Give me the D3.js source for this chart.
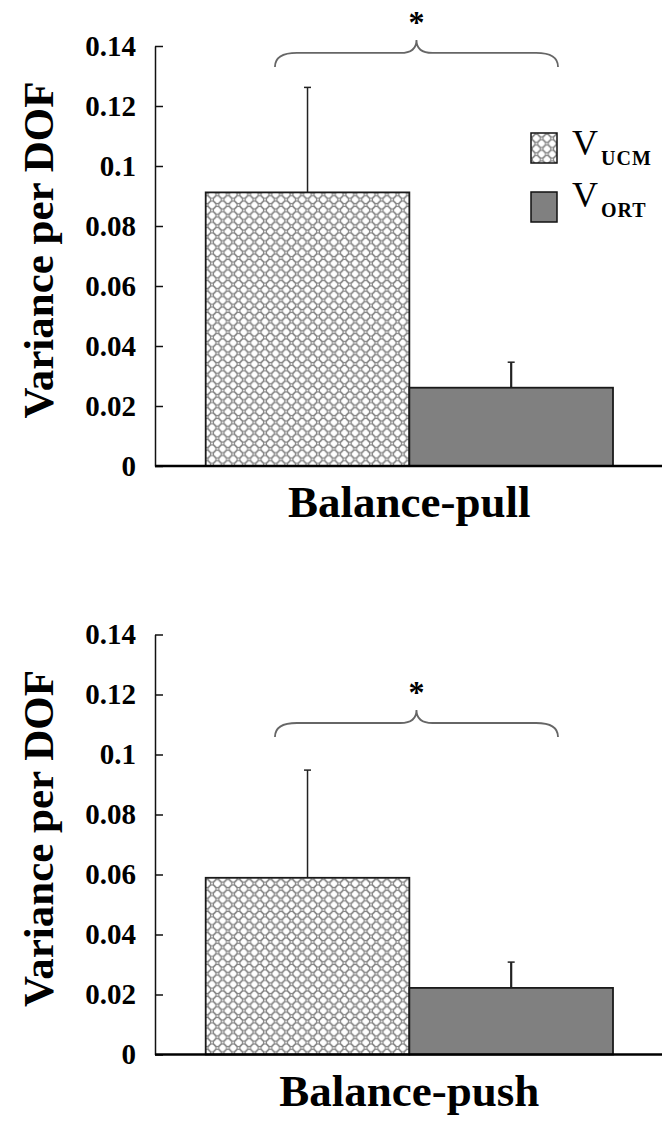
<!DOCTYPE html>
<html>
<head>
<meta charset="utf-8">
<script src="https://cdn.jsdelivr.net/npm/d3@7"></script>
<style>
  html, body { margin: 0; padding: 0; background: #fff; }
  svg { display: block; }
  text { font-family: "Liberation Serif", "DejaVu Serif", serif; }
</style>
</head>
<body>
<script>
// data
const categories = ['Balance-pull', 'Balance-push'];
const series = ['UCM', 'ORT'];
const ucmMean = [0.0912, 0.0589];
const ucmErr = [0.0350, 0.0359];
const ortMean = [0.0261, 0.0222];
const ortErr = [0.0085, 0.0086];
const yTicks = [0, 0.02, 0.04, 0.06, 0.08, 0.1, 0.12, 0.14];
const significance = ['*', '*'];
const braceLevel = [0.1377, 0.1105];
const braceSpan = [0.34, 1.73]; // in bar units (0..2)

const width = 662;
const height = 1122;
const panelTop = [46, 634.5];
const plotHeight = 420;
const axisX = 155;

const svg = d3.select('body').append('svg')
  .attr('width', width)
  .attr('height', height);

// circle lattice fill for the UCM bar
const pattern = svg.append('defs').append('pattern')
  .attr('id', 'rings')
  .attr('patternUnits', 'userSpaceOnUse')
  .attr('width', 10.6)
  .attr('height', 10.6);
pattern.append('rect').attr('width', 10.6).attr('height', 10.6).attr('fill', '#fff');
[[0, 0], [10.6, 0], [0, 10.6], [10.6, 10.6], [5.3, 5.3]].forEach(([cx, cy]) => {
  pattern.append('circle')
    .attr('cx', cx).attr('cy', cy).attr('r', 4)
    .attr('fill', 'none')
    .attr('stroke', '#858585')
    .attr('stroke-width', 1.2);
});

const fills = { UCM: 'url(#rings)', ORT: '#808080' };

const x = d3.scaleBand().domain(series).range([205.7, 613]).padding(0);
const xPos = d3.scaleLinear().domain([0, 2]).range([205.7, 613]);
const fmt = d => String(+d.toFixed(2));

categories.forEach((cat, i) => {
  const g = svg.append('g').attr('transform', `translate(0,${panelTop[i]})`);
  const y = d3.scaleLinear().domain([0, 0.14]).range([plotHeight, 0]);

  const bars = series.map((s, j) => ({
    s,
    v: j === 0 ? ucmMean[i] : ortMean[i],
    e: j === 0 ? ucmErr[i] : ortErr[i]
  }));

  // error bars (upper only)
  const eb = g.append('g').selectAll('g').data(bars).join('g');
  eb.append('line')
    .attr('x1', d => x(d.s) + x.bandwidth() / 2)
    .attr('x2', d => x(d.s) + x.bandwidth() / 2)
    .attr('y1', d => y(d.v))
    .attr('y2', d => y(d.v + d.e))
    .attr('stroke', '#222')
    .attr('stroke-width', (d, j) => j === 0 ? 1.5 : 2.2);
  eb.append('line')
    .attr('x1', d => x(d.s) + x.bandwidth() / 2 - 3.5)
    .attr('x2', d => x(d.s) + x.bandwidth() / 2 + 3.5)
    .attr('y1', d => y(d.v + d.e))
    .attr('y2', d => y(d.v + d.e))
    .attr('stroke', '#222')
    .attr('stroke-width', 1.5);

  g.append('g').selectAll('rect').data(bars).join('rect')
    .attr('x', d => x(d.s))
    .attr('y', d => y(d.v))
    .attr('width', x.bandwidth())
    .attr('height', d => y(0) - y(d.v))
    .attr('fill', d => fills[d.s])
    .attr('stroke', '#1a1a1a')
    .attr('stroke-width', 1.8);

  // y axis
  const ya = g.append('g')
    .attr('transform', `translate(${axisX},0)`)
    .call(d3.axisLeft(y).tickValues(yTicks).tickFormat(fmt)
      .tickSize(-8).tickPadding(19).tickSizeOuter(0));
  ya.select('.domain').attr('stroke', '#111').attr('stroke-width', 1.5);
  ya.selectAll('.tick line').attr('stroke', '#111').attr('stroke-width', 1.5);
  ya.selectAll('.tick text')
    .attr('font-family', '"Liberation Serif", serif')
    .attr('font-weight', 'bold')
    .attr('font-size', 29)
    .attr('fill', '#000');

  // x axis baseline
  g.append('line')
    .attr('x1', axisX).attr('x2', width)
    .attr('y1', y(0)).attr('y2', y(0))
    .attr('stroke', '#000')
    .attr('stroke-width', 2.5);

  g.append('text')
    .attr('x', xPos(1))
    .attr('y', y(0) + 51)
    .attr('text-anchor', 'middle')
    .attr('font-weight', 'bold')
    .attr('font-size', 45)
    .text(cat);

  g.append('text')
    .attr('transform', `translate(53,${plotHeight / 2 - 6}) rotate(-90)`)
    .attr('text-anchor', 'middle')
    .attr('font-weight', 'bold')
    .attr('font-size', 43)
    .text('Variance per DOF');

  // significance brace
  const x0 = xPos(braceSpan[0]);
  const x1 = xPos(braceSpan[1]);
  const xm = (x0 + x1) / 2;
  const yb = y(braceLevel[i]);
  const p = d3.path();
  p.moveTo(x0, yb + 14);
  p.quadraticCurveTo(x0, yb, x0 + 22, yb);
  p.lineTo(xm - 16, yb);
  p.quadraticCurveTo(xm, yb, xm, yb - 13);
  p.quadraticCurveTo(xm, yb, xm + 16, yb);
  p.lineTo(x1 - 22, yb);
  p.quadraticCurveTo(x1, yb, x1, yb + 14);
  g.append('path')
    .attr('d', p.toString())
    .attr('fill', 'none')
    .attr('stroke', '#666')
    .attr('stroke-width', 1.8);

  g.append('text')
    .attr('x', xm)
    .attr('y', yb - 20)
    .attr('text-anchor', 'middle')
    .attr('font-weight', 'bold')
    .attr('font-size', 32)
    .text(significance[i]);

  // legend (top panel only)
  if (i === 0) {
    const lg = g.append('g').selectAll('g').data(series).join('g')
      .attr('transform', (d, j) => `translate(531,${87 + j * 59})`);
    lg.append('rect')
      .attr('width', 26)
      .attr('height', 30)
      .attr('fill', d => fills[d])
      .attr('stroke', '#111')
      .attr('stroke-width', 1.5);
    const t = lg.append('text')
      .attr('x', 41)
      .attr('y', (d, j) => j === 0 ? 22 : 15);
    t.append('tspan')
      .attr('font-size', 36)
      .text('V');
    t.append('tspan')
      .attr('font-size', 20)
      .attr('font-weight', 'bold')
      .attr('letter-spacing', 1)
      .attr('dy', 10)
      .attr('dx', 3)
      .text(d => d);
  }
});
</script>
</body>
</html>
